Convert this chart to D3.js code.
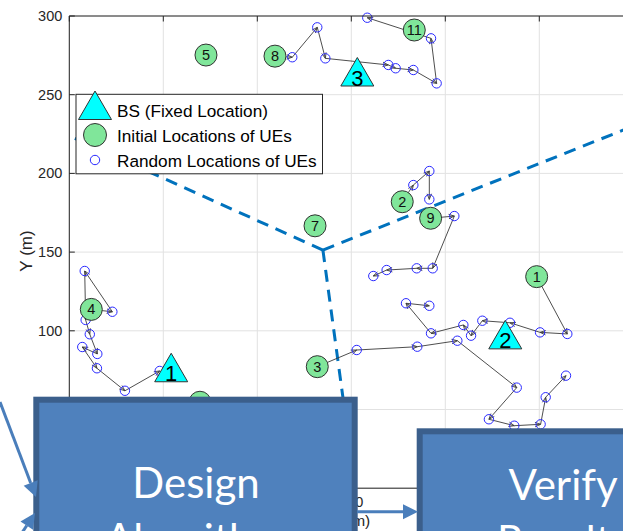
<!DOCTYPE html>
<html>
<head>
<meta charset="utf-8">
<script src="https://cdn.jsdelivr.net/npm/d3@7"></script>
<style>
  body { margin: 0; background: #fff; }
  svg { display: block; }
</style>
</head>
<body>
<svg id="chart" width="623" height="531"></svg>
<script>
// ---- data ----
const xTicks = [0, 50, 100, 150, 200, 250, 300];
const yTicks = [0, 50, 100, 150, 200, 250, 300];

// base stations (fixed)
const bsLabels = ["1", "2", "3"];
const bsX = [54.2, 231.9, 153.2];
const bsY = [76.2, 97.1, 264.1];

// initial UE locations
const ueLabels = ["1", "2", "3", "4", "5", "6", "7", "8", "9", "11"];
const ueX = [248.6, 177.1, 131.9, 11.7, 72.7, 69.5, 130.7, 109.4, 192.2, 183.5];
const ueY = [134.4, 182.0, 77.2, 113.6, 275.2, 54.6, 166.7, 274.5, 171.5, 291.1];

// random walks, each starting at a UE's initial location
const walkUE1 = [[248.6,134.4],[264.9,98.0],[250.4,99.0],[234.4,105.1],[219.7,106.4],[213.7,96.9],[209.6,103.7],[192.4,98.4],[179.1,117.5],[191.5,115.9]];
const walkUE2 = [[177.1,182.0],[183.0,192.6],[191.5,201.5],[191.5,183.5]];
const walkUE3 = [[131.9,77.2],[152.9,87.8],[185.1,89.9],[206.4,93.7],[238.0,63.9],[223.2,43.8],[236.7,39.7],[250.7,40.6],[253.4,57.8],[264.2,71.5]];
const walkUE4 = [[11.7,113.6],[22.9,112.1],[8.2,138.0],[8.7,106.9],[10.9,97.8],[14.9,85.3],[6.9,89.7],[14.7,76.2],[29.6,61.9],[48.1,74.5]];
const walkUE8 = [[109.4,274.5],[118.6,273.8],[131.9,292.8],[136.2,273.1],[169.7,268.9],[173.6,266.8],[183.0,265.7],[195.4,257.2],[192.4,285.8],[158.5,298.9]];
const walkUE9 = [[192.2,171.5],[204.8,172.9],[193.3,139.7],[184.8,139.7],[168.8,138.6],[161.7,134.8]];
const walks = [walkUE1, walkUE2, walkUE3, walkUE4, walkUE8, walkUE9];

// cell boundaries between the three base stations
const cellJunction = [134.9, 151.3];
const cellEnds = [[0, 223.8], [300, 230.1], [152.1, 0]];

const legendLabels = ["BS (Fixed Location)", "Initial Locations of UEs", "Random Locations of UEs"];

// ---- drawing ----
const svg = d3.select("#chart");
const x = d3.scaleLinear().domain([0, 300]).range([69.3, 633.3]);
const y = d3.scaleLinear().domain([0, 300]).range([488.2, 16]);
const axisColor = "#262626";
const font = "'Liberation Sans', Arial, Helvetica, sans-serif";

// grid
const grid = svg.append("g");
grid.selectAll(".gx").data(xTicks).join("line")
  .attr("x1", d => x(d)).attr("x2", d => x(d))
  .attr("y1", y(0)).attr("y2", y(300))
  .attr("stroke", "#e2e2e2").attr("stroke-width", 1);
grid.selectAll(".gy").data(yTicks).join("line")
  .attr("x1", x(0)).attr("x2", x(300))
  .attr("y1", d => y(d)).attr("y2", d => y(d))
  .attr("stroke", "#e2e2e2").attr("stroke-width", 1);

// dashed cell boundaries
svg.append("g").selectAll("line").data(cellEnds).join("line")
  .attr("x1", x(cellJunction[0])).attr("y1", y(cellJunction[1]))
  .attr("x2", d => x(d[0])).attr("y2", d => y(d[1]))
  .attr("stroke", "#0072BD").attr("stroke-width", 3)
  .attr("stroke-dasharray", "12,8");

// walk segments with arrowheads
function headPath(x1, y1, x2, y2, len, spread) {
  const a = Math.atan2(y2 - y1, x2 - x1);
  const p1 = [x2 - len * Math.cos(a - spread), y2 - len * Math.sin(a - spread)];
  const p2 = [x2 - len * Math.cos(a + spread), y2 - len * Math.sin(a + spread)];
  return `M${p1[0]},${p1[1]}L${x2},${y2}L${p2[0]},${p2[1]}`;
}
const segs = [];
walks.forEach(w => {
  for (let i = 1; i < w.length; i++) segs.push([w[i - 1], w[i]]);
});
const segG = svg.append("g");
segG.selectAll("line").data(segs).join("line")
  .attr("x1", d => x(d[0][0])).attr("y1", d => y(d[0][1]))
  .attr("x2", d => x(d[1][0])).attr("y2", d => y(d[1][1]))
  .attr("stroke", "#3a3a3a").attr("stroke-width", 0.9);
segG.selectAll("path").data(segs).join("path")
  .attr("d", d => headPath(x(d[0][0]), y(d[0][1]), x(d[1][0]), y(d[1][1]), 6, 0.38))
  .attr("fill", "none").attr("stroke", "#3a3a3a").attr("stroke-width", 0.9);

// random locations
const randPts = [];
walks.forEach(w => w.slice(1).forEach(p => randPts.push(p)));
svg.append("g").selectAll("circle").data(randPts).join("circle")
  .attr("cx", d => x(d[0])).attr("cy", d => y(d[1])).attr("r", 4.7)
  .attr("fill", "none").attr("stroke", "#2a2aff").attr("stroke-width", 1);

// base stations
function triPath(cx, cy) {
  return `M${cx},${cy - 15}L${cx + 16.5},${cy + 13.5}L${cx - 16.5},${cy + 13.5}Z`;
}
const bsG = svg.append("g");
bsLabels.forEach((lab, i) => {
  const cx = x(bsX[i]), cy = y(bsY[i]);
  bsG.append("path").attr("d", triPath(cx, cy))
    .attr("fill", "#00FFFF").attr("stroke", "#333").attr("stroke-width", 1);
  bsG.append("text").attr("x", cx).attr("y", cy + 13)
    .attr("text-anchor", "middle").attr("font-family", font)
    .attr("font-size", 22).attr("fill", "#000").text(lab);
});

// UE initial locations
const ueG = svg.append("g");
ueLabels.forEach((lab, i) => {
  const cx = x(ueX[i]), cy = y(ueY[i]);
  ueG.append("circle").attr("cx", cx).attr("cy", cy).attr("r", 11)
    .attr("fill", "#80E69A").attr("stroke", "#333").attr("stroke-width", 1);
  ueG.append("text").attr("x", cx).attr("y", cy + 5)
    .attr("text-anchor", "middle").attr("font-family", font)
    .attr("font-size", 14.5).attr("fill", "#111").text(lab);
});

// axes frame and ticks
const ax = svg.append("g");
ax.append("line").attr("x1", x(0)).attr("x2", x(0)).attr("y1", y(0)).attr("y2", y(300))
  .attr("stroke", axisColor).attr("stroke-width", 1);
ax.append("line").attr("x1", x(0)).attr("x2", x(300)).attr("y1", y(300)).attr("y2", y(300))
  .attr("stroke", axisColor).attr("stroke-width", 1);
ax.append("line").attr("x1", x(0)).attr("x2", x(300)).attr("y1", y(0)).attr("y2", y(0))
  .attr("stroke", axisColor).attr("stroke-width", 1);
ax.selectAll(".ty").data(yTicks).join("line")
  .attr("x1", x(0)).attr("x2", x(0) + 5.5).attr("y1", d => y(d)).attr("y2", d => y(d))
  .attr("stroke", axisColor);
ax.selectAll(".tt").data(xTicks).join("line")
  .attr("x1", d => x(d)).attr("x2", d => x(d)).attr("y1", y(300)).attr("y2", y(300) + 5.5)
  .attr("stroke", axisColor);
ax.selectAll(".tb").data(xTicks).join("line")
  .attr("x1", d => x(d)).attr("x2", d => x(d)).attr("y1", y(0)).attr("y2", y(0) - 5.5)
  .attr("stroke", axisColor);
ax.selectAll(".ly").data(yTicks).join("text")
  .attr("x", x(0) - 7).attr("y", d => y(d) + 5)
  .attr("text-anchor", "end").attr("font-family", font).attr("font-size", 14.5)
  .attr("fill", axisColor).text(d => d);
ax.selectAll(".lx").data(xTicks).join("text")
  .attr("x", d => x(d)).attr("y", y(0) + 19)
  .attr("text-anchor", "middle").attr("font-family", font).attr("font-size", 14.5)
  .attr("fill", axisColor).text(d => d);
ax.append("text").attr("transform", `translate(32,251) rotate(-90)`)
  .attr("text-anchor", "middle").attr("font-family", font).attr("font-size", 17)
  .attr("fill", axisColor).text("Y (m)");
ax.append("text").attr("x", x(150)).attr("y", y(0) + 38)
  .attr("text-anchor", "middle").attr("font-family", font).attr("font-size", 15.5)
  .attr("fill", axisColor).text("X (m)");

// legend
const lg = svg.append("g");
lg.append("rect").attr("x", 76).attr("y", 94.3).attr("width", 246.5).attr("height", 79.5)
  .attr("fill", "#fff").attr("stroke", axisColor).attr("stroke-width", 1);
lg.append("path").attr("d", triPath(95, 106)).attr("fill", "#00FFFF").attr("stroke", "#333");
lg.append("circle").attr("cx", 95).attr("cy", 135).attr("r", 11.5)
  .attr("fill", "#80E69A").attr("stroke", "#333");
lg.append("circle").attr("cx", 95).attr("cy", 160).attr("r", 4.7)
  .attr("fill", "none").attr("stroke", "#2a2aff");
lg.selectAll("text").data(legendLabels).join("text")
  .attr("x", 117).attr("y", (d, i) => 116.5 + i * 25)
  .attr("font-family", font).attr("font-size", 17.2).attr("fill", "#000").text(d => d);

// process-flow overlay
const flow = svg.append("g");
const boxFill = "#4F81BD", boxEdge = "#3B5F8C", arrowBlue = "#4A7EBB";
flow.append("rect").attr("x", 36.3).attr("y", 399.7).attr("width", 318.4).attr("height", 200)
  .attr("fill", boxFill).attr("stroke", boxEdge).attr("stroke-width", 6);
flow.append("rect").attr("x", 419.7).attr("y", 431.3).attr("width", 300).attr("height", 200)
  .attr("fill", boxFill).attr("stroke", boxEdge).attr("stroke-width", 6);
const boxFont = "Lato, 'Open Sans', sans-serif";
[["Design", 196, 498], ["Algorithm", 196, 554], ["Verify", 563, 500], ["Results", 563, 556]]
  .forEach(([t, tx, ty]) => {
    flow.append("text").attr("x", tx).attr("y", ty).attr("text-anchor", "middle")
      .attr("font-family", boxFont).attr("font-size", 42).attr("fill", "#fff").text(t);
  });

function blockArrow(x1, y1, x2, y2) {
  const a = Math.atan2(y2 - y1, x2 - x1), L = 15, W = 7.5;
  const bx = x2 - L * Math.cos(a), by = y2 - L * Math.sin(a);
  flow.append("line").attr("x1", x1).attr("y1", y1).attr("x2", bx).attr("y2", by)
    .attr("stroke", arrowBlue).attr("stroke-width", 3);
  const nx = -Math.sin(a) * W, ny = Math.cos(a) * W;
  flow.append("path")
    .attr("d", `M${x2},${y2}L${bx + nx},${by + ny}L${bx - nx},${by - ny}Z`)
    .attr("fill", arrowBlue);
}
blockArrow(357, 511.7, 418, 511.7);
blockArrow(0, 402, 36, 497);
blockArrow(12, 548, 35, 513);
</script>
</body>
</html>
